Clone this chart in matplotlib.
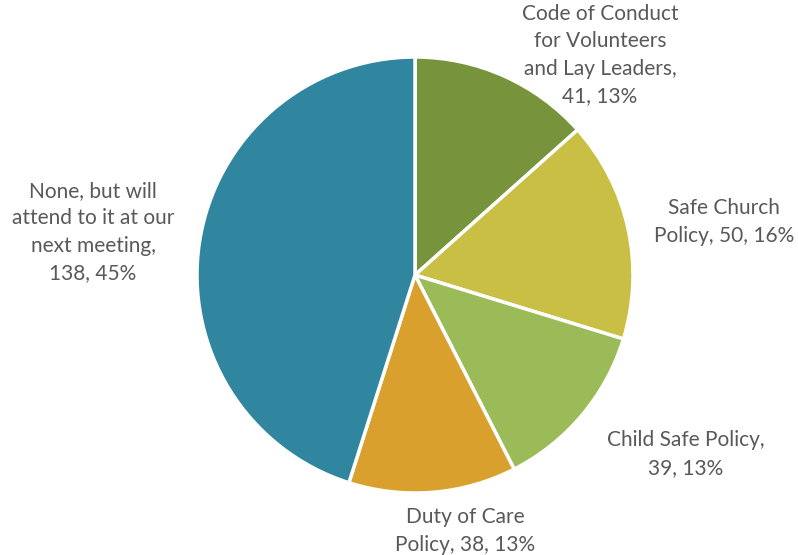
import matplotlib.pyplot as plt

labels = ['Code of Conduct\nfor Volunteers\nand Lay Leaders,', 'Safe Church\nPolicy,',
          'Child Safe Policy,', 'Duty of Care\nPolicy,', 'None, but will\nattend to it at our\nnext meeting,']
counts = [41, 50, 39, 38, 138]
pcts = [13, 16, 13, 13, 45]
# put "n, pct%" on its own line for these
own_line = [True, False, True, False, True]
colors = ['#77933C', '#C9BF45', '#9BBB59', '#D9A02E', '#31869F']
# label anchors in pixels (centre of text block)
label_px = [(600, 55), (724, 222), (686, 454), (465, 531), (93, 232)]

W, H = 798, 555
cx, cy, r = 415, 275, 218

fig = plt.figure(figsize=(W / 100, H / 100), dpi=100)
ax = fig.add_axes([0, 0, 1, 1])
ax.pie(counts, colors=colors, startangle=90, counterclock=False, radius=1,
       wedgeprops=dict(edgecolor='white', linewidth=2.5))
ax.set_xlim(-cx / r, (W - cx) / r)
ax.set_ylim(-(H - cy) / r, cy / r)
ax.set_aspect('equal')
ax.axis('off')

for lab, n, p, sep, (px, py) in zip(labels, counts, pcts, own_line, label_px):
    txt = lab + ('\n' if sep else ' ') + f'{n}, {p}%'
    ax.text((px - cx) / r, (cy - py) / r, txt, ha='center', va='center',
            fontsize=15, color='#595959', family='Lato', linespacing=1.45)

fig.savefig('out.png', dpi=100)
